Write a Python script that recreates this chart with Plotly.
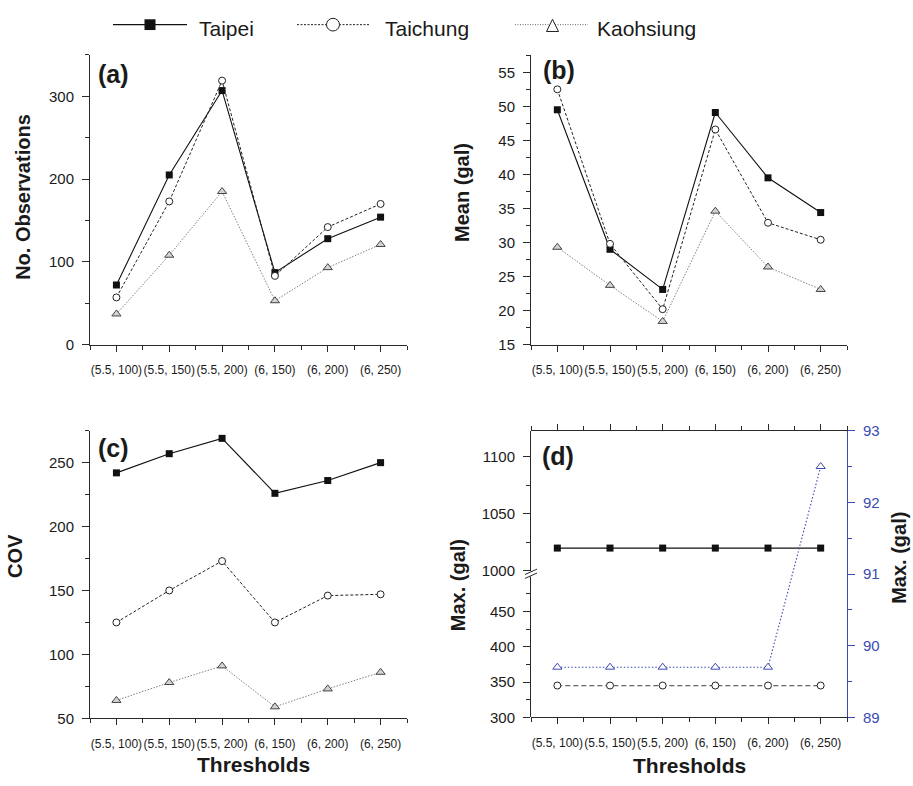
import plotly.graph_objects as go

# ---- data -------------------------------------------------------------
thresholds = ["(5.5, 100)", "(5.5, 150)", "(5.5, 200)", "(6, 150)", "(6, 200)", "(6, 250)"]

obs_taipei = [72, 205, 307, 87, 128, 154]
obs_taichung = [57, 173, 319, 83, 142, 170]
obs_kaohsiung = [37, 108, 185, 53, 93, 121]

mean_taipei = [49.5, 29.0, 23.1, 49.1, 39.5, 34.4]
mean_taichung = [52.5, 29.8, 20.2, 46.6, 32.9, 30.4]
mean_kaohsiung = [29.3, 23.7, 18.4, 34.6, 26.4, 23.1]

cov_taipei = [242, 257, 269, 226, 236, 250]
cov_taichung = [125, 150, 173, 125, 146, 147]
cov_kaohsiung = [64, 78, 91, 59, 73, 86]

max_taipei = [1020, 1020, 1020, 1020, 1020, 1020]
max_taichung = [345, 345, 345, 345, 345, 345]
max_kaohsiung = [89.7, 89.7, 89.7, 89.7, 89.7, 92.5]

xpos = list(range(len(thresholds)))

# ---- page geometry (pixels -> paper) ------------------------------------
W, H = 913, 786


def X(px):
    return px / W


def Y(py):
    return 1 - py / H


FONT = "Liberation Sans, Arial, Helvetica, sans-serif"
AXC = "#2a2a2a"
TXT = "#1a1a1a"
BLUE = "#3c4bb0"

fig = go.Figure()

# ---- styles per series ----------------------------------------------------
sty_taipei = dict(line=dict(color="#111111", width=1.1),
                  marker=dict(symbol="square", size=7, color="#111111",
                              line=dict(width=0)))
sty_taichung = dict(line=dict(color="#222222", width=1, dash="3px,2px"),
                    marker=dict(symbol="circle", size=7, color="white",
                                line=dict(color="#222222", width=1)))
sty_kaohsiung = dict(line=dict(color="#808080", width=1, dash="1.5px,1.5px"),
                     marker=dict(symbol="triangle-up", size=8, color="#d4d4d4",
                                 line=dict(color="#444444", width=1)))


def add(y, xa, ya, sty):
    fig.add_trace(go.Scatter(x=xpos, y=y, xaxis=xa, yaxis=ya, mode="lines+markers",
                             showlegend=False, hoverinfo="skip", cliponaxis=False, **sty))


add(obs_taipei, "x", "y", sty_taipei)
add(obs_taichung, "x", "y", sty_taichung)
add(obs_kaohsiung, "x", "y", sty_kaohsiung)

add(mean_taipei, "x2", "y2", sty_taipei)
add(mean_taichung, "x2", "y2", sty_taichung)
add(mean_kaohsiung, "x2", "y2", sty_kaohsiung)

add(cov_taipei, "x3", "y3", sty_taipei)
add(cov_taichung, "x3", "y3", sty_taichung)
add(cov_kaohsiung, "x3", "y3", sty_kaohsiung)

# panel (d): broken left axis (y4 lower, y5 upper) and blue right axis (y6)
add(max_taipei, "x4", "y5", sty_taipei)
add(max_taichung, "x4", "y4",
    dict(line=dict(color="#666666", width=1.2, dash="5px,3px"),
         marker=dict(symbol="circle", size=7, color="white",
                     line=dict(color="#222222", width=1))))
add(max_kaohsiung, "x4", "y6",
    dict(line=dict(color=BLUE, width=1.1, dash="1.5px,2px"),
         marker=dict(symbol="triangle-up", size=8, color="white",
                     line=dict(color=BLUE, width=1))))


# ---- axes -----------------------------------------------------------------
def xaxis(d0, d1, anchor, mirror=False):
    return dict(domain=[X(d0), X(d1)], anchor=anchor, range=[-0.5, 5.5],
                tickmode="array", tickvals=xpos, ticktext=thresholds, tickangle=0,
                ticks="outside", ticklen=6, tickwidth=1, tickcolor=AXC,
                showline=True, linecolor=AXC, linewidth=1,
                mirror="ticks" if mirror else False,
                showgrid=False, zeroline=False, ticklabelstandoff=8,
                tickfont=dict(family=FONT, size=12, color=TXT),
                minor=dict(ticks="outside", ticklen=4, tickwidth=1, tickcolor=AXC,
                           dtick=0.5, tick0=-0.5, showgrid=False),
                fixedrange=True)


def yaxis(t0, t1, anchor, rng, dtick=None, mdtick=None, tickvals=None,
          mtickvals=None, side="left", color=AXC, tcolor=TXT):
    d = dict(domain=[Y(t1), Y(t0)], anchor=anchor, range=rng, side=side,
             ticks="outside", ticklen=7, tickwidth=1, tickcolor=color,
             showline=True, linecolor=color, linewidth=1,
             showgrid=False, zeroline=False, ticklabelstandoff=5,
             tickfont=dict(family=FONT, size=15, color=tcolor),
             fixedrange=True)
    if tickvals is not None:
        d.update(tickmode="array", tickvals=tickvals)
        d["minor"] = dict(ticks="outside", ticklen=4, tickwidth=1, tickcolor=color,
                          tickmode="array", tickvals=mtickvals, showgrid=False)
    else:
        d.update(tickmode="linear", dtick=dtick, tick0=rng[0])
        d["minor"] = dict(ticks="outside", ticklen=4, tickwidth=1, tickcolor=color,
                          dtick=mdtick, tick0=rng[0], showgrid=False)
    return d


BREAK = 577  # pixel row of the axis break in panel (d)

fig.update_layout(
    xaxis=xaxis(90, 407, "y"),
    xaxis2=xaxis(531, 847, "y2"),
    xaxis3=xaxis(90, 407, "y3"),
    xaxis4=xaxis(531, 847, "y6", mirror=True),
    yaxis=yaxis(47, 343, "x", [0, 350], 100, 50),
    yaxis2=yaxis(47, 343, "x2", [15, 57.55], 5, 2.5),
    yaxis3=yaxis(431, 725, "x3", [50, 275], 50, 25),
    yaxis4=yaxis(BREAK, 724, "x4", [300, 503.5],
                 tickvals=[300, 350, 400, 450], mtickvals=[325, 375, 425, 475]),
    yaxis5=yaxis(431, BREAK, "x4", [997.7, 1122.9],
                 tickvals=[1000, 1050, 1100], mtickvals=[1025, 1075]),
    yaxis6=yaxis(431, 724, "x4", [89, 93], 1, 0.5, side="right",
                 color=BLUE, tcolor=BLUE),
)

# ---- text ---------------------------------------------------------------
ann = []


def text(s, px, py, size, angle=0, color=TXT, xanchor="center"):
    ann.append(dict(text=s, x=X(px), y=Y(py), xref="paper", yref="paper",
                    xanchor=xanchor, yanchor="middle", showarrow=False,
                    textangle=angle, font=dict(family=FONT, size=size, color=color)))


text("<b>No. Observations</b>", 23, 192, 20, -90)
text("<b>Mean (gal)</b>", 462, 187, 20, -90)
text("<b>COV</b>", 15, 559, 20, -90)
text("<b>Max. (gal)</b>", 458, 589, 20, -90)
text("<b>Max. (gal)</b>", 899, 561, 20, -90)
text("<b>Thresholds</b>", 254, 772, 21)
text("<b>Thresholds</b>", 689, 773, 21)

text("<b>(a)</b>", 113, 66, 25)
text("<b>(b)</b>", 559, 62.5, 25)
text("<b>(c)</b>", 113, 449, 25)
text("<b>(d)</b>", 558, 456.5, 25)

# legend labels
text("Taipei", 197, 19.5, 21, xanchor="left")
text("Taichung", 383, 19.5, 21, xanchor="left")
text("Kaohsiung", 595, 19.5, 21, xanchor="left")

# ---- legend keys and axis-break mark ---------------------------------------
shapes = []


def seg(x0, y0, x1, y1, color, width=1, dash="solid"):
    shapes.append(dict(type="line", xref="paper", yref="paper",
                       x0=X(x0), y0=Y(y0), x1=X(x1), y1=Y(y1),
                       line=dict(color=color, width=width, dash=dash)))


seg(113, 16, 187, 16, "#111111", 1.2)
shapes.append(dict(type="rect", xref="paper", yref="paper",
                   x0=X(144.5), x1=X(155.5), y0=Y(21.5), y1=Y(10.5),
                   fillcolor="#111111", line=dict(width=0)))

seg(297, 16, 370, 16, "#222222", 1, "2px,1.5px")
shapes.append(dict(type="circle", xref="paper", yref="paper",
                   x0=X(326.5), x1=X(339.5), y0=Y(22.5), y1=Y(9.5),
                   fillcolor="white", line=dict(color="#222222", width=1)))

seg(515, 16, 588, 16, "#666666", 1, "1px,1.5px")
shapes.append(dict(type="path", xref="paper", yref="paper",
                   path=f"M {X(546.5)} {Y(23)} L {X(558.5)} {Y(23)} L {X(552.5)} {Y(10.5)} Z",
                   fillcolor="white", line=dict(color="#222222", width=1)))

# "//" break on the left axis of panel (d)
shapes.append(dict(type="rect", xref="paper", yref="paper",
                   x0=X(528), x1=X(535), y0=Y(580), y1=Y(574.5),
                   fillcolor="white", line=dict(width=0), layer="above"))
seg(525, 578, 537, 572.5, AXC, 1)
seg(525, 582, 537, 576.5, AXC, 1)

fig.update_layout(
    width=W, height=H, margin=dict(l=0, r=0, t=0, b=0),
    paper_bgcolor="white", plot_bgcolor="rgba(0,0,0,0)",
    showlegend=False, annotations=ann, shapes=shapes,
    font=dict(family=FONT, color=TXT),
)

fig.write_html("out.html")
